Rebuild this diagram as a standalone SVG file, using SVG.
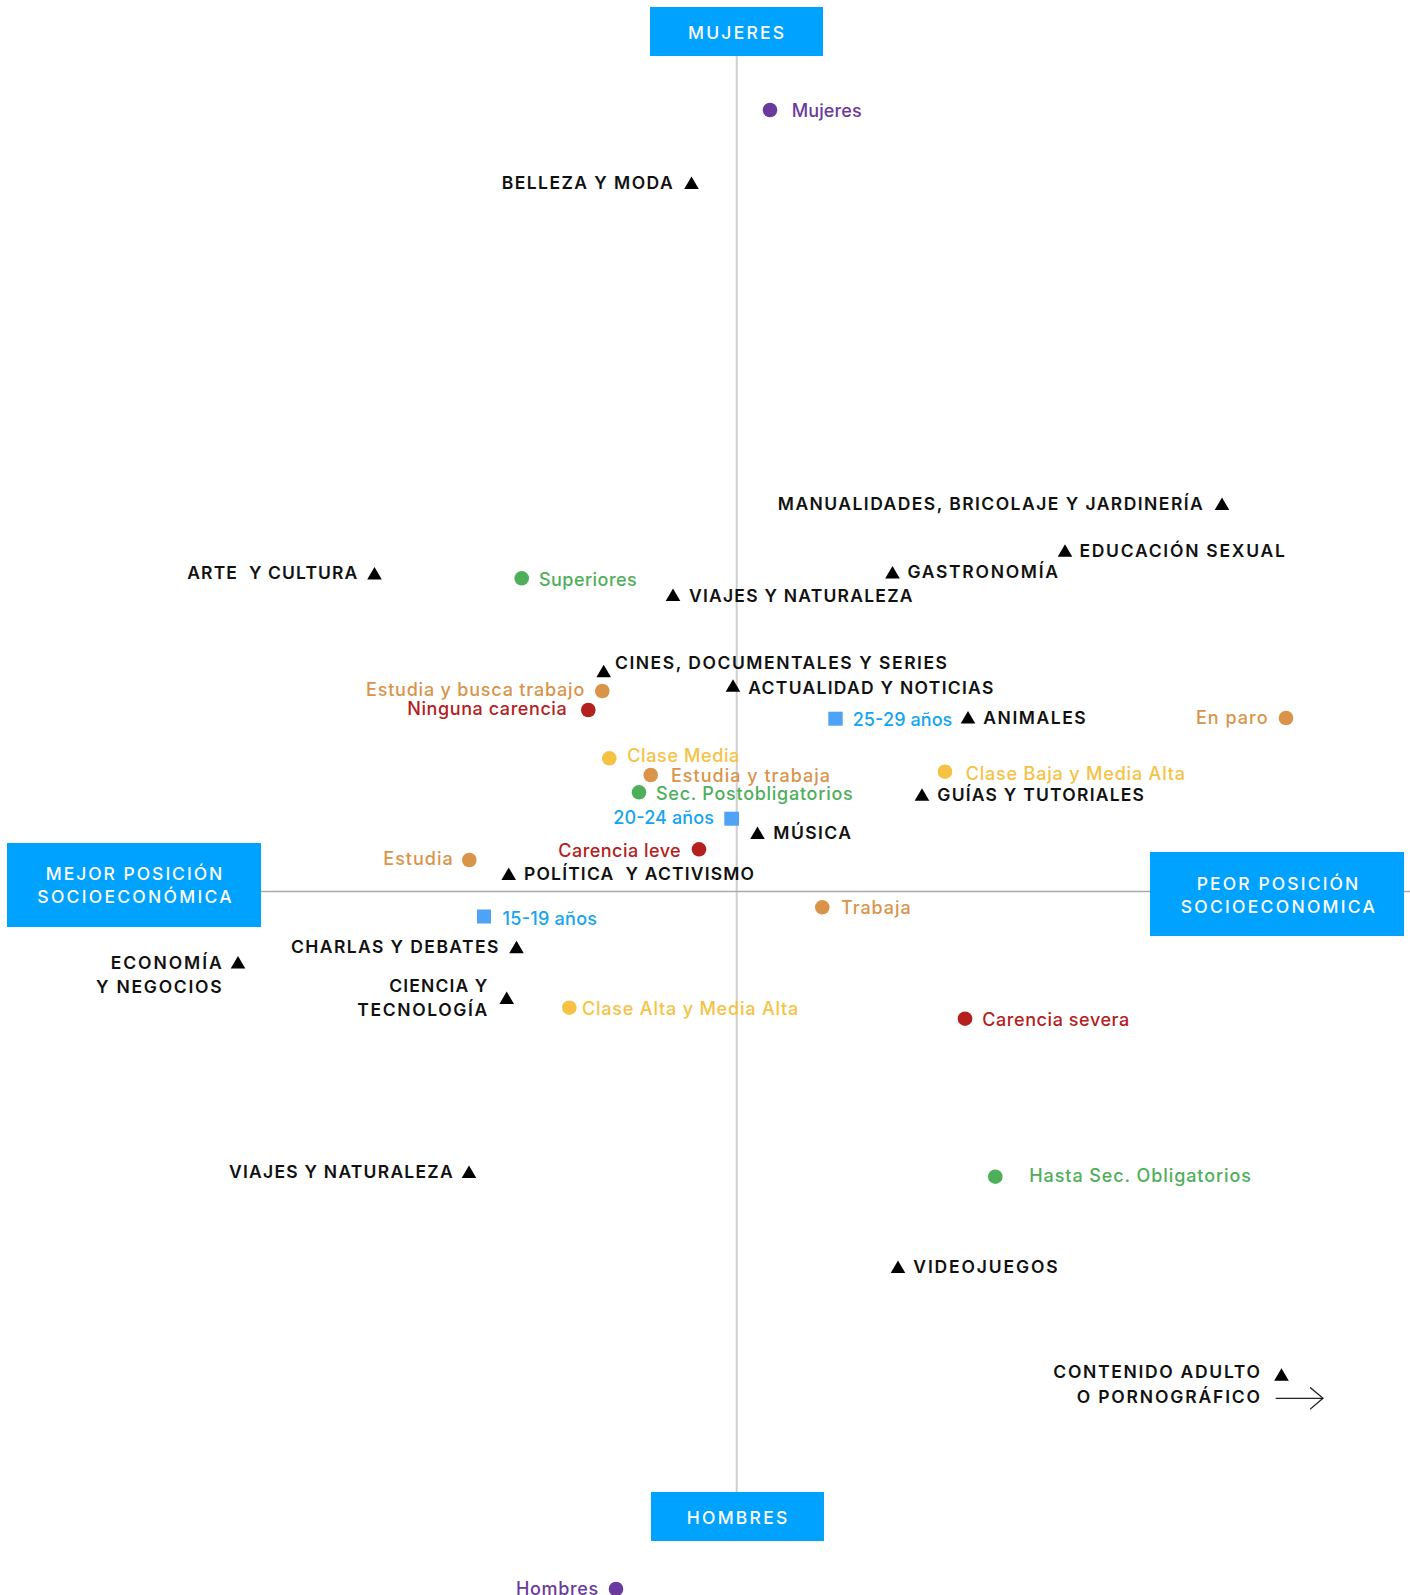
<svg xmlns="http://www.w3.org/2000/svg" xmlns:xlink="http://www.w3.org/1999/xlink" width="1410" height="1595" viewBox="0 0 1410 1595">
<style>
text{font-family:Inter,"Noto Sans","Liberation Sans",sans-serif;font-weight:500}
.k{fill:#111;font-size:17.5px;font-weight:600}
.b{fill:#fff;font-size:17.5px}
.box{fill:#00a2ff}
.c{font-size:18px}
.pu{fill:#6a3a9e}.or{fill:#d9944a}.re{fill:#b3201d}.ye{fill:#f6c244}.gr{fill:#4fae5a}.bl{fill:#13a4f2}.sq{fill:#4fa3f7}
</style>
<defs>
<path id="tri" d="M0,-12.5 L7.3,0 L-7.3,0 Z" fill="#000"/>
<marker id="arr" markerWidth="16" markerHeight="24" refX="13" refY="11" orient="auto" markerUnits="userSpaceOnUse">
<polyline points="0,0 13,11 0,22" fill="none" stroke="#222" stroke-width="1.3"/>
</marker>
</defs>
<g id="axes">
<line x1="736.7" y1="56" x2="736.7" y2="1492" stroke="#cfcfcf" stroke-width="2"/>
<line x1="261" y1="891.5" x2="1410" y2="891.5" stroke="#aaa" stroke-width="1.5"/>
<line x1="1275.7" y1="1398.3" x2="1323" y2="1398.3" stroke="#222" stroke-width="1.3" marker-end="url(#arr)"/>
</g>
<g id="n-mujeres-box"><rect class="box" x="650" y="7" width="173" height="49"/><text class="b" x="688" y="38.7" textLength="96" lengthAdjust="spacing">MUJERES</text></g>
<g id="n-hombres-box"><rect class="box" x="651" y="1492" width="173" height="49"/><text class="b" x="686.7" y="1524" textLength="100.6" lengthAdjust="spacing">HOMBRES</text></g>
<g id="n-mejor-box"><rect class="box" x="7" y="843" width="254" height="84"/><text class="b" x="45.7" y="880" textLength="176.6" lengthAdjust="spacing">MEJOR POSICIÓN</text><text class="b" x="37.3" y="903.3" textLength="194.4" lengthAdjust="spacing">SOCIOECONÓMICA</text></g>
<g id="n-peor-box"><rect class="box" x="1150" y="852" width="254" height="84"/><text class="b" x="1196.7" y="890" textLength="161.6" lengthAdjust="spacing">PEOR POSICIÓN</text><text class="b" x="1180.7" y="913.3" textLength="194.3" lengthAdjust="spacing">SOCIOECONOMICA</text></g>

<g id="n-belleza"><text class="k" x="501.7" y="189" textLength="171" lengthAdjust="spacing">BELLEZA Y MODA</text><use xlink:href="#tri" x="691.5" y="189"/></g>
<g id="n-manualidades"><text class="k" x="777.8" y="510" textLength="425" lengthAdjust="spacing">MANUALIDADES, BRICOLAJE Y JARDINERÍA</text><use xlink:href="#tri" x="1222" y="510"/></g>
<g id="n-educacion"><use xlink:href="#tri" x="1065" y="556.7"/><text class="k" x="1079.4" y="556.7" textLength="205.4" lengthAdjust="spacing">EDUCACIÓN SEXUAL</text></g>
<g id="n-gastronomia"><use xlink:href="#tri" x="892.5" y="578.5"/><text class="k" x="907.4" y="578.3" textLength="150.6" lengthAdjust="spacing">GASTRONOMÍA</text></g>
<g id="n-arte"><text class="k" x="187.3" y="579.3" textLength="170" lengthAdjust="spacing" xml:space="preserve">ARTE  Y CULTURA</text><use xlink:href="#tri" x="374.5" y="579.5"/></g>
<g id="n-viajes1"><use xlink:href="#tri" x="673" y="601"/><text class="k" x="689" y="602" textLength="223.5" lengthAdjust="spacing">VIAJES Y NATURALEZA</text></g>
<g id="n-cines"><use xlink:href="#tri" x="603.7" y="677.3"/><text class="k" x="615" y="669" textLength="332" lengthAdjust="spacing">CINES, DOCUMENTALES Y SERIES</text></g>
<g id="n-actualidad"><use xlink:href="#tri" x="733" y="691.7"/><text class="k" x="748.3" y="694" textLength="245" lengthAdjust="spacing">ACTUALIDAD Y NOTICIAS</text></g>
<g id="n-animales"><use xlink:href="#tri" x="968" y="723.5"/><text class="k" x="983.3" y="724" textLength="102.4" lengthAdjust="spacing">ANIMALES</text></g>
<g id="n-guias"><use xlink:href="#tri" x="922" y="800.7"/><text class="k" x="937.3" y="801" textLength="206.7" lengthAdjust="spacing">GUÍAS Y TUTORIALES</text></g>
<g id="n-musica"><use xlink:href="#tri" x="757.5" y="839"/><text class="k" x="773.3" y="839.3" textLength="77.7" lengthAdjust="spacing">MÚSICA</text></g>
<g id="n-politica"><use xlink:href="#tri" x="508.7" y="880"/><text class="k" x="524" y="880" textLength="230" lengthAdjust="spacing" xml:space="preserve">POLÍTICA  Y ACTIVISMO</text></g>
<g id="n-charlas"><text class="k" x="291" y="952.7" textLength="207.3" lengthAdjust="spacing">CHARLAS Y DEBATES</text><use xlink:href="#tri" x="516.5" y="953.3"/></g>
<g id="n-economia"><text class="k" x="110.7" y="969.3" textLength="111" lengthAdjust="spacing">ECONOMÍA</text><text class="k" x="96" y="992.7" textLength="125.7" lengthAdjust="spacing">Y NEGOCIOS</text><use xlink:href="#tri" x="238" y="968.5"/></g>
<g id="n-ciencia"><text class="k" x="389.3" y="992.3" textLength="98" lengthAdjust="spacing">CIENCIA Y</text><text class="k" x="357.3" y="1015.7" textLength="130" lengthAdjust="spacing">TECNOLOGÍA</text><use xlink:href="#tri" x="506.7" y="1004"/></g>
<g id="n-viajes2"><text class="k" x="229" y="1178" textLength="223.7" lengthAdjust="spacing">VIAJES Y NATURALEZA</text><use xlink:href="#tri" x="469" y="1178"/></g>
<g id="n-videojuegos"><use xlink:href="#tri" x="898" y="1273"/><text class="k" x="913.3" y="1273.3" textLength="144.4" lengthAdjust="spacing">VIDEOJUEGOS</text></g>
<g id="n-contenido"><text class="k" x="1053.3" y="1378.3" textLength="206.7" lengthAdjust="spacing">CONTENIDO ADULTO</text><text class="k" x="1076.7" y="1403.3" textLength="183.3" lengthAdjust="spacing">O PORNOGRÁFICO</text><use xlink:href="#tri" x="1281.5" y="1380.7"/></g>

<g id="n-mujeres"><circle class="pu" cx="770" cy="110" r="7.3"/><text class="c pu" x="791.7" y="116.7" textLength="70" lengthAdjust="spacing">Mujeres</text></g>
<g id="n-superiores"><circle class="gr" cx="521.7" cy="578.3" r="7.3"/><text class="c gr" x="539" y="585.7" textLength="97.7" lengthAdjust="spacing">Superiores</text></g>
<g id="n-estudia-busca"><text class="c or" x="366" y="695.7" textLength="218.3" lengthAdjust="spacing">Estudia y busca trabajo</text><circle class="or" cx="602.3" cy="691" r="7.3"/></g>
<g id="n-ninguna"><text class="c re" x="407.3" y="715" textLength="159.4" lengthAdjust="spacing">Ninguna carencia</text><circle class="re" cx="588.3" cy="710" r="7.3"/></g>
<g id="n-25-29"><rect class="sq" x="828.3" y="711.7" width="14.4" height="14"/><text class="c bl" x="852.7" y="725.5" textLength="99.6" lengthAdjust="spacing">25-29 años</text></g>
<g id="n-enparo"><text class="c or" x="1196" y="723.5" textLength="71.5" lengthAdjust="spacing">En paro</text><circle class="or" cx="1286" cy="718" r="7.3"/></g>
<g id="n-clase-media"><circle class="ye" cx="609.3" cy="758.3" r="7.3"/><text class="c ye" x="627.3" y="762.3" textLength="112" lengthAdjust="spacing">Clase Media</text></g>
<g id="n-estudia-trabaja"><circle class="or" cx="650.7" cy="775" r="7.3"/><text class="c or" x="671" y="781.7" textLength="159" lengthAdjust="spacing">Estudia y trabaja</text></g>
<g id="n-clase-baja"><circle class="ye" cx="945" cy="771.7" r="7.3"/><text class="c ye" x="965.7" y="779.8" textLength="219.3" lengthAdjust="spacing">Clase Baja y Media Alta</text></g>
<g id="n-postobligatorios"><circle class="gr" cx="639" cy="792.3" r="7.3"/><text class="c gr" x="656" y="800" textLength="196.7" lengthAdjust="spacing">Sec. Postobligatorios</text></g>
<g id="n-20-24"><text class="c bl" x="613.3" y="824.3" textLength="100.7" lengthAdjust="spacing">20-24 años</text><rect class="sq" x="724.3" y="811.7" width="14.7" height="14"/></g>
<g id="n-carencia-leve"><text class="c re" x="558.3" y="856.5" textLength="122.4" lengthAdjust="spacing">Carencia leve</text><circle class="re" cx="699" cy="849.3" r="7.3"/></g>
<g id="n-estudia"><text class="c or" x="383.3" y="865.3" textLength="69.4" lengthAdjust="spacing">Estudia</text><circle class="or" cx="469.3" cy="860" r="7.3"/></g>
<g id="n-15-19"><rect class="sq" x="477" y="909.5" width="14" height="14"/><text class="c bl" x="502.5" y="924.5" textLength="94.5" lengthAdjust="spacing">15-19 años</text></g>
<g id="n-trabaja"><circle class="or" cx="822.3" cy="907.3" r="7.3"/><text class="c or" x="841" y="914" textLength="69.7" lengthAdjust="spacing">Trabaja</text></g>
<g id="n-clase-alta"><circle class="ye" cx="569.3" cy="1007.7" r="7.3"/><text class="c ye" x="582" y="1015" textLength="216.3" lengthAdjust="spacing">Clase Alta y Media Alta</text></g>
<g id="n-carencia-severa"><circle class="re" cx="965" cy="1018.7" r="7.3"/><text class="c re" x="982.3" y="1026" textLength="147" lengthAdjust="spacing">Carencia severa</text></g>
<g id="n-hasta-sec"><circle class="gr" cx="995.3" cy="1176.7" r="7.3"/><text class="c gr" x="1029.3" y="1182.3" textLength="221.7" lengthAdjust="spacing">Hasta Sec. Obligatorios</text></g>
<g id="n-hombres"><text class="c pu" x="516" y="1594.5" textLength="82.3" lengthAdjust="spacing">Hombres</text><circle class="pu" cx="616" cy="1589" r="7.3"/></g>
</svg>
